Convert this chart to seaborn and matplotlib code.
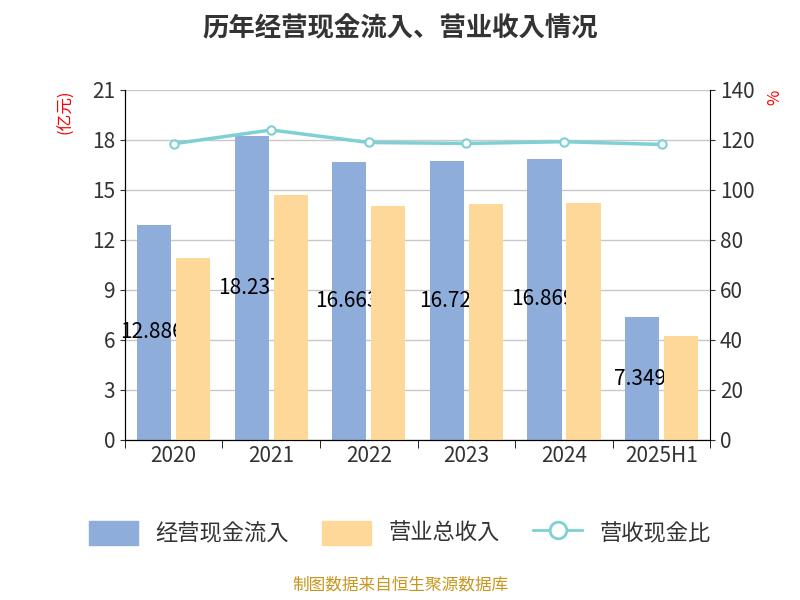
import numpy as np
import pandas as pd
import matplotlib
matplotlib.use("Agg")
import matplotlib.pyplot as plt
from matplotlib import font_manager
import seaborn as sns
from matplotlib.patches import Patch
from matplotlib.lines import Line2D

# pick whichever CJK family is actually registered
cjk = sorted({f.name for f in font_manager.fontManager.ttflist if "CJK" in f.name})
prefer = [n for n in cjk if n.endswith("SC")] or cjk
plt.rcParams["font.family"] = prefer[:1] + ["DejaVu Sans"]
plt.rcParams["axes.unicode_minus"] = False

years = ["2020", "2021", "2022", "2023", "2024", "2025H1"]
cash_in = [12.886, 18.237, 16.663, 16.72, 16.869, 7.349]
revenue = [10.9, 14.7, 14.05, 14.15, 14.2, 6.25]
ratio = [118.5, 124.0, 119.0, 118.6, 119.3, 118.2]
cash_labels = ["12.886", "18.237", "16.663", "16.72", "16.869", "7.349"]

df = pd.DataFrame({"year": years * 2,
                   "value": cash_in + revenue,
                   "kind": ["经营现金流入"] * 6 + ["营业总收入"] * 6})

fig = plt.figure(figsize=(8, 6), dpi=100)
ax = fig.add_axes([0.156, 0.267, 0.732, 0.583])
sns.barplot(data=df, x="year", y="value", hue="kind", ax=ax,
            palette=["#8eadda", "#fed898"], width=0.8, gap=0.12,
            legend=False, saturation=1, zorder=2)
# labels sit behind the orange bars
for p in ax.patches[6:]:
    p.set_zorder(4)
for i, (v, t) in enumerate(zip(cash_in, cash_labels)):
    ax.text(i - 0.22, v / 2, t, ha="center", va="center", fontsize=15,
            color="black", zorder=3)

ax.set_ylim(0, 21)
ax.set_yticks(range(0, 22, 3))
ax.set_xlim(-0.5, 5.5)
ax.set_xticks(np.arange(-0.5, 6, 1), minor=True)
ax.tick_params(axis="x", which="major", length=0)
ax.tick_params(axis="x", which="minor", length=6)
ax.grid(axis="y", color="#c8c8c8", lw=1, zorder=0)
ax.set_axisbelow(True)
ax.set_xlabel("")
ax.set_ylabel("")
ax.tick_params(labelsize=15, colors="#333333")
ax.spines["top"].set_visible(False)
ax.spines["right"].set_visible(False)
ax.text(-0.1, 1.0, "(亿元)", transform=ax.transAxes, rotation=90,
        color="red", fontsize=12, ha="center", va="top")

ax2 = ax.twinx()
ax2.plot(range(6), ratio, color="#7fd0d4", lw=2.5, marker="o", ms=6,
         mfc="white", mec="#7fd0d4", mew=1.5, zorder=5)
ax2.set_ylim(0, 140)
ax2.set_yticks(range(0, 141, 20))
ax2.tick_params(labelsize=15, colors="#333333")
ax2.spines["top"].set_visible(False)
ax2.text(1.11, 1.0, "%", transform=ax2.transAxes, rotation=90,
         color="red", fontsize=12, ha="center", va="top")

fig.suptitle("历年经营现金流入、营业收入情况", fontsize=19, fontweight="bold",
             color="#333333", y=0.975)
handles = [Patch(color="#8eadda", label="经营现金流入"),
           Patch(color="#fed898", label="营业总收入"),
           Line2D([0], [0], color="#7fd0d4", lw=2, marker="o", ms=12,
                  mfc="white", mew=2, label="营收现金比")]
fig.legend(handles=handles, loc="center", bbox_to_anchor=(0.5, 0.112),
           ncol=3, frameon=False, fontsize=16, handlelength=2.2,
           handleheight=1.3, columnspacing=1.5, labelcolor="#333333")
fig.text(0.5, 0.018, "制图数据来自恒生聚源数据库", ha="center",
         color="#c8961e", fontsize=12)
fig.savefig("out.png", dpi=100)
